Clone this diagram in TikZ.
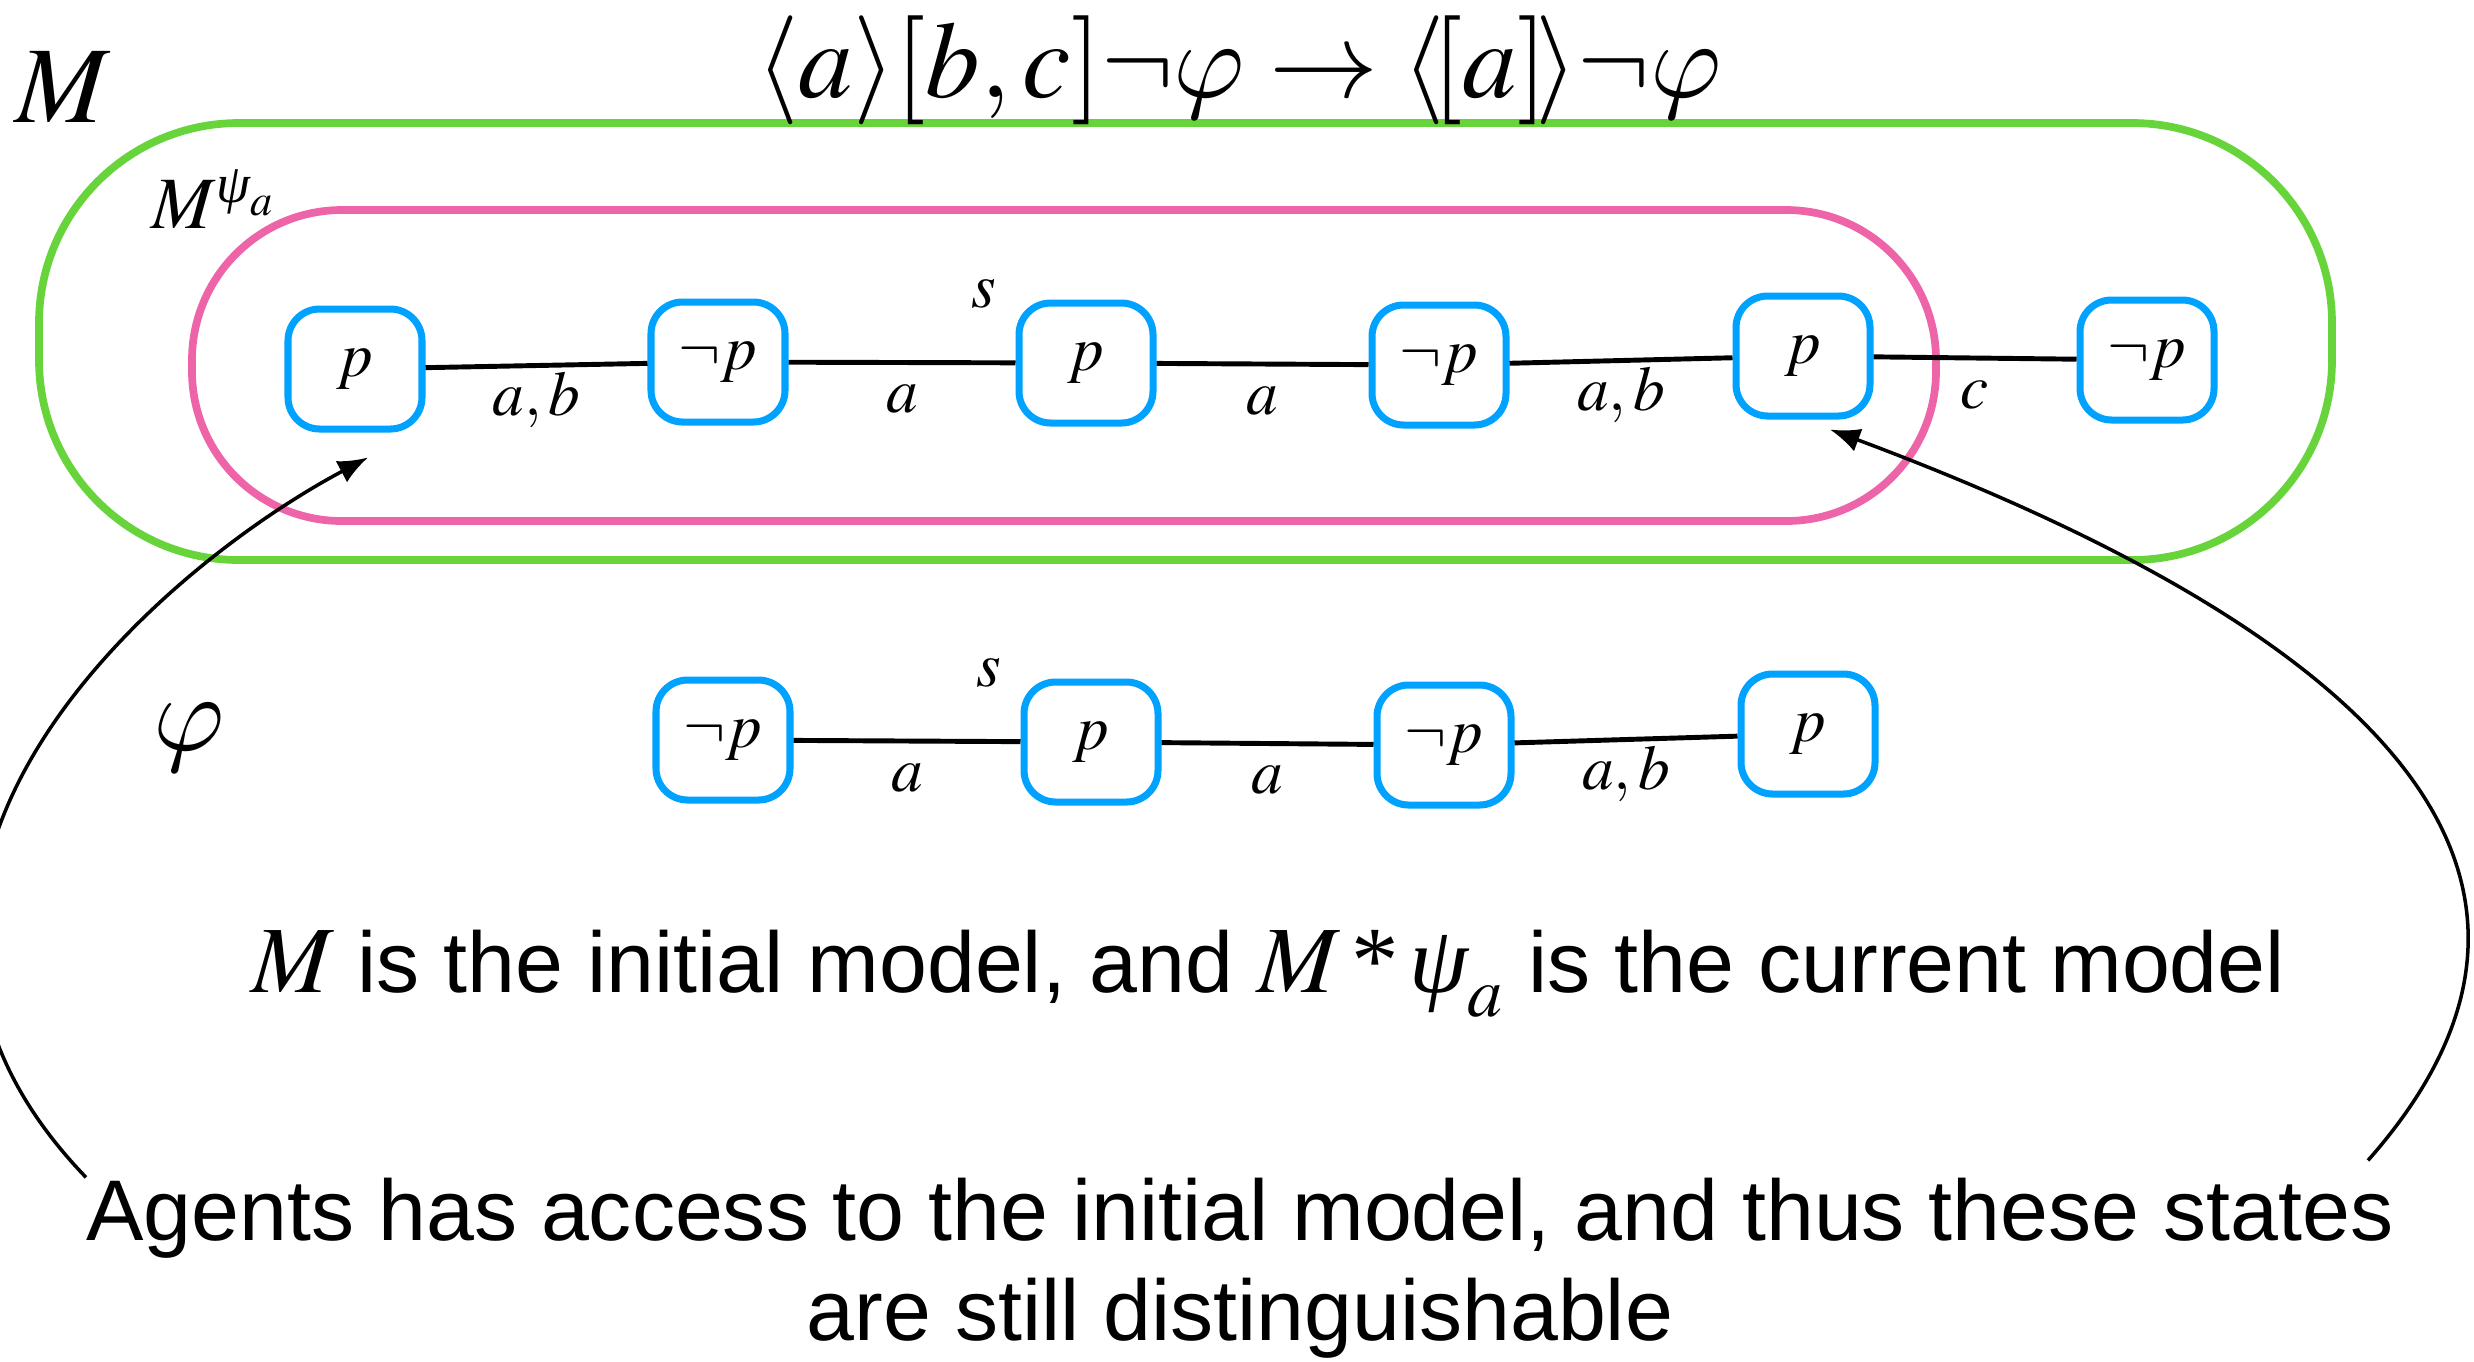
\documentclass[tikz,border=0pt]{standalone}
\usepackage{amsmath}
\usepackage{mathptmx}
\usepackage[no-math]{fontspec}
\setmainfont{Liberation Serif}
\setsansfont{Liberation Sans}
\newfontfamily\lmgreek{latinmodern-math.otf}
\usetikzlibrary{arrows.meta,positioning,calc}
\definecolor{outergreen}{HTML}{66D43A}
\definecolor{innerpink}{HTML}{EE64A8}
\definecolor{stateblue}{HTML}{00A2FF}
\newcommand{\gphi}{\text{\lmgreek 𝜑}}
\newcommand{\gpsi}{\text{\rmfamily\itshape ψ}}

\begin{document}
\begin{tikzpicture}[
  every node/.style={font=\fontsize{18}{20}\selectfont},
  state/.style={draw=stateblue, line width=2pt, rounded corners=9pt,
                minimum width=13.4mm, minimum height=12mm, inner sep=0pt},
  rel/.style={line width=1.4pt},
  lbl/.style={below=2mm, midway, inner sep=1pt, text height=1.5ex, text depth=.3ex},
  region/.style={line width=2.2pt, rounded corners=#1},
  arr/.style={-{Latex[length=3mm,width=2.4mm]}, line width=1pt},
  caption/.style={font=\sffamily\fontsize{24.5}{28.5}\selectfont, align=center},
  bigmath/.style={font=\fontsize{31}{33}\selectfont}
]
  \useasboundingbox (0,0) rectangle (24.74,-13.61);

  \draw[region=2cm, draw=outergreen] (0.39,-1.23) rectangle (23.32,-5.60);
  \draw[region=1.5cm, draw=innerpink] (1.92,-2.10) rectangle (19.36,-5.21);

  \node[bigmath] (title) at (12.39,-0.70)
    {$\langle a\rangle[b,c]\neg\gphi\rightarrow\langle\![a]\!\rangle\neg\gphi$};
  \node[bigmath] (mlab) at (0.63,-0.87) {$M$};
  \node[font=\fontsize{21}{23}\selectfont] (mpsi) at (2.14,-1.99) {$M^{\gpsi_a}$};
  \node[bigmath] (philab) at (1.89,-7.38) {$\gphi$};

  \node[state] (w1) at (3.55,-3.69) {$p$};
  \node[state] (w2) at (7.18,-3.62) {$\neg p$};
  \node[state] (w3) at (10.86,-3.63) {$p$};
  \node[state] (w4) at (14.39,-3.65) {$\neg p$};
  \node[state] (w5) at (18.03,-3.56) {$p$};
  \node[state] (w6) at (21.47,-3.60) {$\neg p$};
  \node (s1) at ($(w3.north west)+(-0.32,0.06)$) {$s$};

  \draw[rel] (w1) -- node[lbl]{$a,b$} (w2);
  \draw[rel] (w2) -- node[lbl]{$a$} (w3);
  \draw[rel] (w3) -- node[lbl]{$a$} (w4);
  \draw[rel] (w4) -- node[lbl]{$a,b$} (w5);
  \draw[rel] (w5) -- node[lbl]{$c$} (w6);

  \node[state] (v1) at (7.23,-7.40) {$\neg p$};
  \node[state] (v2) at (10.91,-7.42) {$p$};
  \node[state] (v3) at (14.44,-7.45) {$\neg p$};
  \node[state] (v4) at (18.08,-7.34) {$p$};
  \node (s2) at ($(v2.north west)+(-0.32,0.06)$) {$s$};

  \draw[rel] (v1) -- node[lbl]{$a$} (v2);
  \draw[rel] (v2) -- node[lbl]{$a$} (v3);
  \draw[rel] (v3) -- node[lbl]{$a,b$} (v4);

  \node[caption] (cur) at (12.68,-9.74)
    {{\fontsize{27}{28.5}\selectfont$M$} is the initial model, and
     {\fontsize{27}{28.5}\selectfont$M\,$\textrm{*}$\,\gpsi_a$} is the current model};
  \node[caption] (note) at (12.40,-12.68)
    {Agents has access to the initial model, and thus these states\\are still distinguishable};

  \draw[arr] ($(note.north west)+(0.12,-0.12)$) .. controls (-2.0,-8.8) and (1.53,-5.72) .. ($(w1.south)+(0.13,-0.25)$);
  \draw[arr] ($(note.north east)+(-0.38,0.05)$) .. controls (26.6,-8.3) and (22.6,-5.9) .. ($(w5.south)+(0.27,-0.1)$);
\end{tikzpicture}
\end{document}
